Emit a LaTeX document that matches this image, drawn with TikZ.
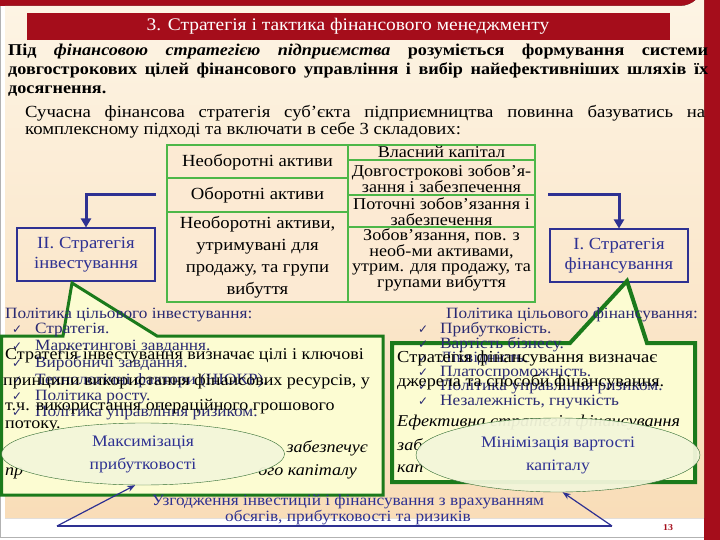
\documentclass[tikz,border=0pt]{standalone}
\usepackage{fontspec}
\setmainfont{Liberation Serif}[FakeStretch=1.1]
\newfontfamily\symfont{DejaVu Sans}
\usetikzlibrary{arrows.meta,shapes.geometric}

\definecolor{framered}{HTML}{A50D1B}
\definecolor{bgtop}{HTML}{FDF5E6}
\definecolor{bgbottom}{HTML}{F9DDB8}
\definecolor{tabgreen}{HTML}{4DB748}
\definecolor{cellfill}{HTML}{FCEAD3}
\definecolor{stratblue}{HTML}{2E3192}
\definecolor{listblue}{HTML}{2A2A72}
\definecolor{calloutgreen}{HTML}{1B7A1B}
\definecolor{calloutfill}{HTML}{FCFCD2}
\definecolor{goalfill}{HTML}{F3F6DA}
\definecolor{goalgreen}{HTML}{2F6B2F}

\tikzset{
  cell/.style={draw=tabgreen, line width=2pt, fill=cellfill},
  celltext/.style={align=center, inner sep=0pt, font=\fontsize{16.5}{15.7}\selectfont},
  stratbox/.style={draw=stratblue, line width=2pt, text=stratblue, align=center,
    minimum width=138pt, minimum height=52pt, font=\fontsize{17}{20}\selectfont},
  flow/.style={stratblue, line width=3pt, -{Triangle[length=9pt,width=10pt]}},
  slim/.style={stratblue, line width=1.2pt, -{Stealth[length=8pt,width=6pt]}},
  callout/.style={draw=calloutgreen, line width=3pt, fill=calloutfill, line join=miter},
  item/.style={anchor=base west, inner sep=0pt, text=listblue, font=\fontsize{15.7}{15}\selectfont},
  tick/.style={anchor=base west, inner sep=0pt, text=listblue, font=\symfont\bfseries\fontsize{12}{12}\selectfont},
  body/.style={anchor=base west, inner sep=0pt, font=\fontsize{16.4}{16}\selectfont},
  bigbody/.style={anchor=base west, inner sep=0pt, font=\fontsize{16.8}{17}\selectfont},
  goal/.style={ellipse, draw=goalgreen, fill=goalfill, fill opacity=0.95, text opacity=1,
    text=stratblue, align=center, font=\fontsize{16}{23}\selectfont}
}

\begin{document}
\begin{tikzpicture}[x=1pt, y=-1pt]
  \useasboundingbox (0,0) rectangle (720,540);
  \fill[white] (0,0) rectangle (720,540);
  \fill[framered] (0,0) rectangle (720,6);
  \fill[framered] (680,0) rectangle (720,32);
  \fill[framered] (704,0) rectangle (720,540);
  \fill[top color=bgtop, bottom color=bgbottom]
    (5,6) -- (680,6) arc[start angle=90, end angle=0, radius=24] -- (704,518) -- (5,518) -- cycle;
  \draw[gray!60, line width=1pt] (0.5,6) -- (0.5,537) -- (704,537);

  \fill[framered] (27,13) rectangle (670,40);
  \node[text=white, font=\fontsize{17.7}{17.7}\selectfont] (title) at (348,26)
    {3. Стратегія і тактика фінансового менеджменту};

  \node[anchor=north west, inner sep=0pt, text width=700pt, align=justify,
    font=\bfseries\fontsize{16.5}{19}\selectfont] (def) at (8,44)
    {Під \textit{фінансовою стратегією підприємства} розуміється формування системи\linebreak
     довгострокових цілей фінансового управління і вибір найефективніших шляхів їх\linebreak
     досягнення.};
  \node[anchor=north west, inner sep=0pt, text width=680pt, align=justify,
    font=\fontsize{17}{17}\selectfont] (intro) at (25,105)
    {Сучасна фінансова стратегія суб'єкта підприємництва повинна базуватись на\linebreak
     комплексному підході та включати в себе 3 складових:};

  % balance sheet
  \draw[cell] (167,145) rectangle (348,178);
  \draw[cell] (167,178) rectangle (348,212);
  \draw[cell] (167,212) rectangle (348,302);
  \draw[cell] (348,145) rectangle (535,160);
  \draw[cell] (348,160) rectangle (535,195);
  \draw[cell] (348,195) rectangle (535,227);
  \draw[cell] (348,227) rectangle (535,302);
  \node[celltext, font=\fontsize{17}{17}\selectfont] (nca) at (257.5,162) {Необоротні активи};
  \node[celltext, font=\fontsize{17}{17}\selectfont] (ca) at (257.5,195) {Оборотні активи};
  \node[celltext, font=\fontsize{17}{22}\selectfont] (ncas) at (257.5,257)
    {Необоротні активи,\\утримувані для\\продажу, та групи\\вибуття};
  \node[celltext] (eq) at (441.5,152) {Власний капітал};
  \node[celltext] (ltl) at (441.5,179) {Довгострокові зобов'я-\\зання і забезпечення};
  \node[celltext] (cl) at (441.5,212) {Поточні зобов'язання і\\забезпечення};
  \node[celltext] (lhs) at (441.5,260)
    {Зобов'язання, пов. з\\необ-ми активами,\\утрим. для продажу, та\\групами вибуття};

  \node[stratbox] (inv) at (86,254.5) {II. Стратегія\\інвестування};
  \node[stratbox] (fin) at (619,255.5) {I. Стратегія\\фінансування};
  \coordinate (invin) at (156,195);
  \coordinate (finin) at (548,195);
  \draw[flow] (invin) -| (inv.north);
  \draw[flow] (finin) -| (fin.north);

  % callouts
  \draw[callout] (1.5,336) -- (63,336) -- (72,283) -- (157,336) -- (383,336)
    -- (383,495) -- (1.5,495) -- cycle;
  \draw[callout, line width=4pt] (392,343) -- (570,343) -- (627,281) -- (647,343)
    -- (695,343) -- (695,482) -- (392,482) -- cycle;

  \node[item] (invpol) at (5,318) {Політика цільового інвестування:};
  \node[item] (i1) at (35,333) {Стратегія.};
  \node[item] (i2) at (35,350) {Маркетингові завдання.};
  \node[item] (i3) at (35,367) {Виробничі завдання.};
  \node[item] (i4) at (35,384) {Технологічні фактори (НІОКР).};
  \node[item] (i5) at (35,400) {Політика росту.};
  \node[item] (i6) at (35,416) {Політика управління ризиком.};
  \foreach \y in {333,350,367,384,400,416}
    \node[tick] at (12,\y) {✓};

  \node[item, anchor=base east] (finpol) at (698,318) {Політика цільового фінансування:};
  \node[item] (f1) at (440,333) {Прибутковість.};
  \node[item] (f2) at (440,348) {Вартість бізнесу.};
  \node[item] (f3) at (440,362) {Ліквідність.};
  \node[item] (f4) at (440,376) {Платоспроможність.};
  \node[item] (f5) at (440,390) {Політика управління ризиком.};
  \node[item] (f6) at (440,405) {Незалежність, гнучкість};
  \foreach \y in {333,348,362,376,390,405}
    \node[tick] at (418,\y) {✓};

  \node[body] (invdef1) at (5,359) {Стратегія інвестування визначає цілі і ключові};
  \node[body] (invdef2) at (3,385) {принципи використання фінансових ресурсів, у};
  \node[body] (invdef3) at (5,410) {т.ч. використання операційного грошового};
  \node[body] (invdef4) at (5,428) {потоку.};
  \node[body, font=\itshape\fontsize{16.4}{16}\selectfont, anchor=base east] (inveff1) at (368,452) {забезпечує};
  \node[body, font=\itshape\fontsize{16.4}{16}\selectfont] (inveff2) at (5,475) {пр};
  \node[body, font=\itshape\fontsize{16.4}{16}\selectfont, anchor=base east] (inveff3) at (357,475) {ого капіталу};

  \node[bigbody] (findef1) at (397,362) {Стратегія фінансування визначає};
  \node[bigbody, font=\fontsize{16.5}{17}\selectfont] (findef2) at (397,386) {джерела та способи фінансування.};
  \node[bigbody, font=\itshape\fontsize{16.5}{17}\selectfont] (fineff1) at (397,426) {Ефективна стратегія фінансування};
  \node[bigbody, font=\itshape\fontsize{16.5}{17}\selectfont] (fineff2) at (397,450) {заб};
  \node[bigbody, font=\itshape\fontsize{16.5}{17}\selectfont] (fineff3) at (397,472) {кап};

  \node[goal, minimum width=283pt, minimum height=62pt] (maxp) at (143,454)
    {Максимізація\\прибутковості};
  \node[goal, minimum width=284pt, minimum height=74pt] (minc) at (558,455)
    {Мінімізація вартості\\капіталу};

  % coordination
  \node[text=stratblue, align=center, font=\fontsize{15.7}{16}\selectfont] (coord) at (348,510)
    {Узгодження інвестицій і фінансування з врахуванням\\обсягів, прибутковості та ризиків};
  \coordinate (bl) at (57,526);
  \coordinate (br) at (612,526);
  \draw[stratblue, line width=1.2pt] (bl) -- (br);
  \draw[slim] (bl) -- (maxp.256);
  \draw[slim] (br) -- (minc.277);

  \node[text=framered, font=\bfseries\fontsize{9}{9}\selectfont] (page) at (668,528) {13};
\end{tikzpicture}
\end{document}
